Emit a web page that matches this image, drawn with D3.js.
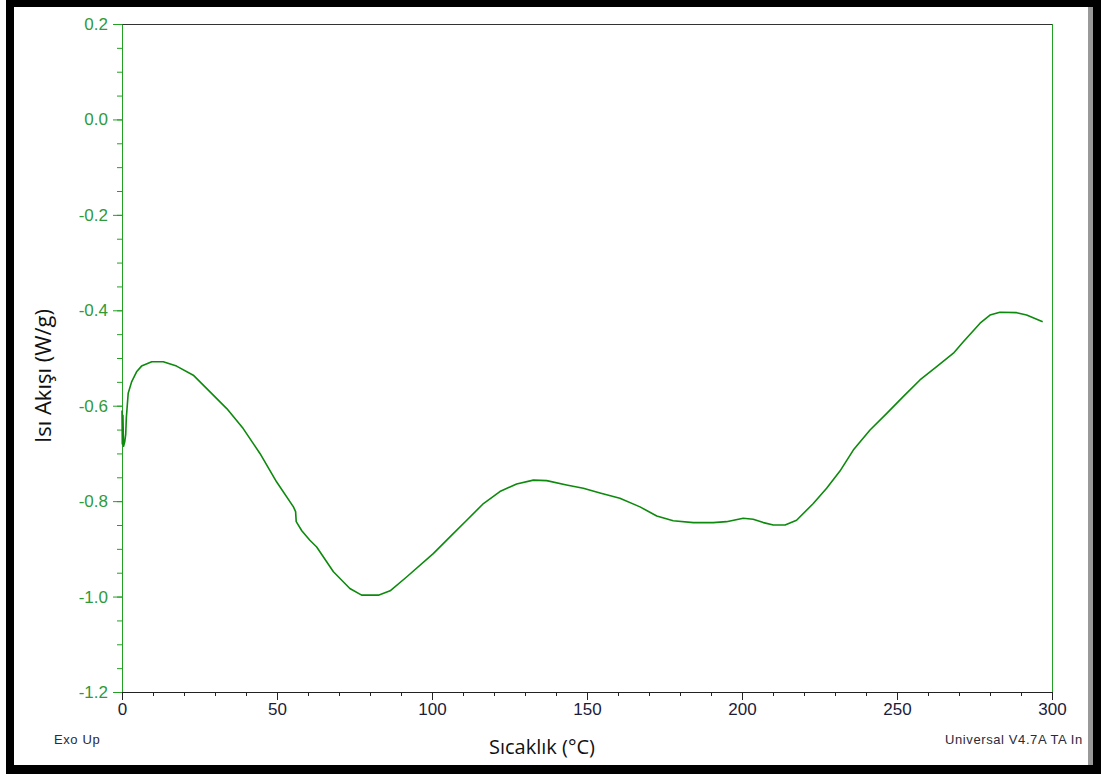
<!DOCTYPE html>
<html>
<head>
<meta charset="utf-8">
<script src="https://cdn.jsdelivr.net/npm/d3@7"></script>
<style>
  body { margin: 0; background: #fff; }
  svg { display: block; }
</style>
</head>
<body>
<div id="chart"></div>
<script>
// DSC curve
const temperature = [0, 0.1, 0.3, 0.5, 0.9, 1.2, 1.4, 2.0, 3.1, 4.7, 6.3, 9.6, 13.3, 17.6, 23, 28.4,
	33.8, 39.1, 44.5, 49.9, 55.3, 56.0, 56.2, 58, 60.6, 62.8, 68.2, 73.5, 77.3, 82.7, 86.5, 91.8,
	100.4, 105.8, 111.2, 116.6, 121.9, 127.3, 132.7, 137, 143.4, 148.8, 154.2, 160.6, 167.1, 172.5,
	177.8, 184.3, 190.7, 195, 200.4, 203.6, 206.9, 210.1, 213.9, 217.6, 223, 227.3, 231.6, 235.9,
	241.3, 246.7, 252, 257.4, 262.8, 268.2, 271.4, 276.8, 280, 283.2, 288.6, 291.8, 297];
const heatFlow = [-0.61, -0.68, -0.62, -0.685, -0.675, -0.66, -0.625, -0.574, -0.55, -0.529, -0.517, -0.508, -0.508, -0.517, -0.536, -0.571,
	-0.606, -0.648, -0.70, -0.76, -0.812, -0.822, -0.843, -0.862, -0.882, -0.896, -0.948, -0.983, -0.997, -0.997, -0.988, -0.959,
	-0.910, -0.875, -0.840, -0.805, -0.780, -0.764, -0.756, -0.757, -0.766, -0.773, -0.783, -0.794, -0.812, -0.831,
	-0.841, -0.845, -0.845, -0.843, -0.836, -0.838, -0.845, -0.850, -0.850, -0.840, -0.805, -0.773, -0.737, -0.693,
	-0.651, -0.616, -0.581, -0.546, -0.518, -0.490, -0.466, -0.427, -0.410, -0.404, -0.405, -0.410, -0.424];

const xTicks = [0, 50, 100, 150, 200, 250, 300];
const yTicks = [0.2, 0.0, -0.2, -0.4, -0.6, -0.8, -1.0, -1.2];
const xTitle = "Sıcaklık (°C)";
const yTitle = "Isı Akışı (W/g)";
const noteLeft = "Exo Up";
const noteRight = "Universal V4.7A TA In";

const w = 1101;
const h = 776;
const margin = { top: 24, right: 49, bottom: 84, left: 122 };
const green = "#23a023";

const svg = d3.select("#chart")
	.append("svg")
	.attr("width", w)
	.attr("height", h)
	.attr("viewBox", [0, 0, w, h]);

svg.append("rect").attr("width", w).attr("height", h).attr("fill", "#fff");

const x = d3.scaleLinear()
	.domain([0, 300])
	.range([margin.left, w - margin.right]);

const y = d3.scaleLinear()
	.domain([-1.2, 0.2])
	.range([h - margin.bottom, margin.top]);

// frame lines top / right
svg.append("line")
	.attr("x1", x(0)).attr("x2", x(300))
	.attr("y1", y(0.2) + 0.5).attr("y2", y(0.2) + 0.5)
	.attr("stroke", "#333");
svg.append("line")
	.attr("x1", x(300) + 0.5).attr("x2", x(300) + 0.5)
	.attr("y1", y(0.2)).attr("y2", y(-1.2))
	.attr("stroke", green);

//axes

function yMinor(g) {
	g.attr("transform", `translate(${margin.left}, 0)`)
	.call(d3.axisLeft(y).tickValues(d3.range(-1.2, 0.2001, 0.05)).tickSize(5).tickFormat(""))
	.call(g => g.select(".domain").remove())
	.call(g => g.selectAll("line").attr("stroke", green));
}

function yAxis(g) {
	g.attr("transform", `translate(${margin.left}, 0)`)
	.call(d3.axisLeft(y).tickValues(yTicks).tickSize(9).tickSizeOuter(0).tickPadding(5).tickFormat(d3.format(".1f")))
	.attr("font-size", "17px")
	.attr("font-family", "'Liberation Sans', Arial, sans-serif")
	.call(g => g.select(".domain").attr("stroke", green))
	.call(g => g.selectAll("line").attr("stroke", green))
	.call(g => g.selectAll("text").attr("fill", "#2f9a3a").text(d => d3.format(".1f")(d).replace("−", "-")));
}

function xMinor(g) {
	g.attr("transform", `translate(0, ${h - margin.bottom})`)
	.call(d3.axisBottom(x).tickValues(d3.range(0, 301, 10)).tickSize(4).tickFormat(""))
	.call(g => g.select(".domain").remove())
	.call(g => g.selectAll("line").attr("stroke", "#222"));
}

function xAxis(g) {
	g.attr("transform", `translate(0, ${h - margin.bottom})`)
	.call(d3.axisBottom(x).tickValues(xTicks).tickSize(8).tickSizeOuter(0).tickPadding(3))
	.attr("font-size", "17px")
	.attr("font-family", "'Liberation Sans', Arial, sans-serif")
	.call(g => g.select(".domain").attr("stroke", "#222"))
	.call(g => g.selectAll("line").attr("stroke", "#222"))
	.call(g => g.selectAll("text").attr("fill", "#1c1c3a"));
}

svg.append("g").call(yMinor);
svg.append("g").call(xMinor);
svg.append("g").call(yAxis);
svg.append("g").call(xAxis);

// curve
const points = temperature.map((t, i) => [t, heatFlow[i]]);
svg.append("path")
	.datum(points)
	.attr("fill", "none")
	.attr("stroke", "#0d8a0d")
	.attr("stroke-width", 1.6)
	.attr("stroke-linejoin", "round")
	.attr("d", d3.line().x(d => x(d[0])).y(d => y(d[1])));

// titles
svg.append("text")
	.attr("x", 542)
	.attr("y", 754)
	.attr("text-anchor", "middle")
	.attr("font-family", "'Open Sans', sans-serif")
	.attr("font-size", "20px")
	.attr("fill", "#111")
	.text(xTitle);

svg.append("text")
	.attr("transform", "translate(51, 376) rotate(-90)")
	.attr("text-anchor", "middle")
	.attr("font-family", "'Open Sans', sans-serif")
	.attr("font-size", "22px")
	.attr("fill", "#111")
	.text(yTitle);

svg.append("text")
	.attr("x", 54)
	.attr("y", 744)
	.attr("font-family", "'Liberation Sans', Arial, sans-serif")
	.attr("font-size", "13px")
	.attr("letter-spacing", "0.6px")
	.attr("fill", "#2a2a3a")
	.text(noteLeft);

svg.append("text")
	.attr("x", 945)
	.attr("y", 744)
	.attr("font-family", "'Liberation Sans', Arial, sans-serif")
	.attr("font-size", "13px")
	.attr("letter-spacing", "0.6px")
	.attr("fill", "#2a2a3a")
	.text(noteRight);

// black border round the picture
svg.append("path")
	.attr("fill-rule", "evenodd")
	.attr("fill", "#000")
	.attr("d", "M6,0H1101V774H6Z M14,7V765H1088V7Z");
svg.append("rect")
	.attr("x", 1088).attr("y", 7)
	.attr("width", 5).attr("height", 758)
	.attr("fill", "#999");
</script>
</body>
</html>
